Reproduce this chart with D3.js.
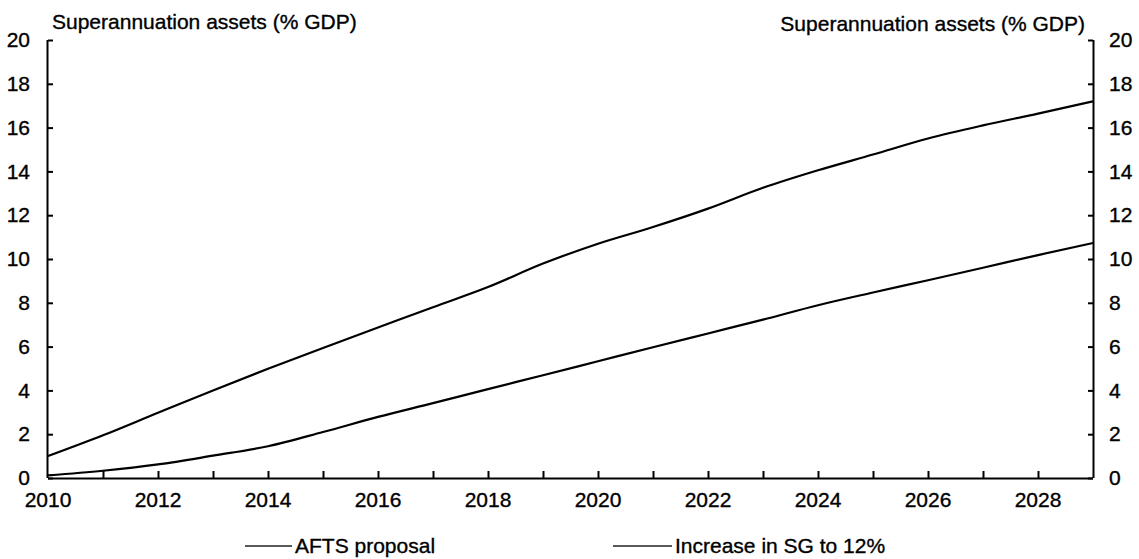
<!DOCTYPE html>
<html>
<head>
<meta charset="utf-8">
<script src="https://cdn.jsdelivr.net/npm/d3@7"></script>
<style>
  html, body { margin: 0; padding: 0; background: #fff; }
  svg text { font-family: "Liberation Sans", Arial, sans-serif; fill: #000; stroke: #000; stroke-width: 0.35px; }
</style>
</head>
<body>
<svg id="chart" width="1139" height="559"></svg>
<script>
const years = [2010,2011,2012,2013,2014,2015,2016,2017,2018,2019,2020,2021,2022,2023,2024,2025,2026,2027,2028,2029];
const sgIncrease = [1.0,1.95,2.98,4.0,4.99,5.94,6.87,7.8,8.72,9.79,10.7,11.46,12.3,13.25,14.05,14.77,15.5,16.1,16.64,17.2];
const aftsProposal = [0.12,0.33,0.62,1.02,1.45,2.1,2.79,3.42,4.06,4.69,5.33,5.97,6.6,7.23,7.89,8.47,9.03,9.6,10.18,10.73];
const yTicks = [0,2,4,6,8,10,12,14,16,18,20];
const xLabelYears = [2010,2012,2014,2016,2018,2020,2022,2024,2026,2028];
const axisTitle = "Superannuation assets (% GDP)";
const seriesNames = ["AFTS proposal", "Increase in SG to 12%"];

const svg = d3.select("#chart");
const L = 48, R = 1093, T = 40, B = 478;
const x = d3.scaleLinear().domain([2010, 2029]).range([L, R]);
const y = d3.scaleLinear().domain([0, 20]).range([B, T]);
const FS = "21px";

const yLeft = d3.axisLeft(y).tickValues(yTicks).tickSize(-5).tickPadding(18).tickFormat(d3.format("d"));
const gl = svg.append("g").attr("transform", `translate(${L},0)`).call(yLeft);
const yRight = d3.axisRight(y).tickValues(yTicks).tickSize(-5).tickPadding(16).tickFormat(d3.format("d"));
const gr = svg.append("g").attr("transform", `translate(${R},0)`).call(yRight);
const xAxis = d3.axisBottom(x).tickValues(d3.range(2011, 2029)).tickSize(-7).tickFormat("");
const gb = svg.append("g").attr("transform", `translate(0,${B})`).call(xAxis);

[gl, gr, gb].forEach(g => {
  g.select(".domain").attr("stroke", "#000").attr("stroke-width", 2);
  g.selectAll(".tick line").attr("stroke", "#000").attr("stroke-width", 2);
  g.selectAll("text").style("font-size", FS).attr("fill", "#000");
});
gl.select(".domain").attr("d", `M-0.5,${B}V${T}`);
gr.select(".domain").attr("d", `M0.5,${B}V${T}`);
gb.select(".domain").attr("d", `M${L},0.5H${R}`);

svg.append("g").selectAll("text").data(xLabelYears).join("text")
  .attr("x", d => x(d)).attr("y", 507)
  .attr("text-anchor", "middle").style("font-size", FS)
  .text(d => d);

svg.append("text").attr("x", 52).attr("y", 29).style("font-size", FS).text(axisTitle);
svg.append("text").attr("x", 1085).attr("y", 31).attr("text-anchor", "end").style("font-size", FS).text(axisTitle);

const line = d3.line().x((d, i) => x(years[i])).y(d => y(d)).curve(d3.curveMonotoneX);
[aftsProposal, sgIncrease].forEach(s => {
  svg.append("path").datum(s).attr("d", line)
    .attr("fill", "none").attr("stroke", "#000").attr("stroke-width", 2.2);
});

const legend = [{name: seriesNames[0], x1: 245, x2: 292}, {name: seriesNames[1], x1: 613, x2: 672}];
legend.forEach(l => {
  svg.append("line").attr("x1", l.x1).attr("x2", l.x2).attr("y1", 546).attr("y2", 546)
    .attr("stroke", "#222").attr("stroke-width", 1.5);
  svg.append("text").attr("x", l.x2 + 3).attr("y", 553).style("font-size", FS).text(l.name);
});
</script>
</body>
</html>
